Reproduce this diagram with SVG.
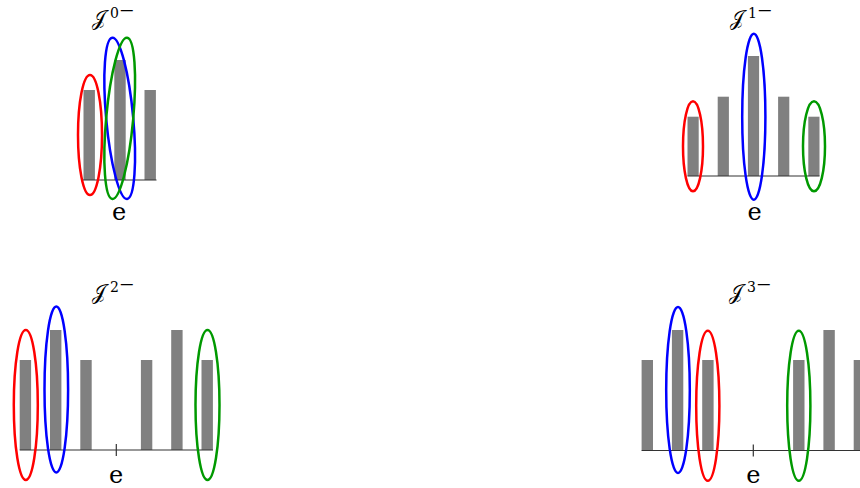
<svg xmlns="http://www.w3.org/2000/svg" width="860" height="488" viewBox="0 0 860 488">
  <style>
    .bar { fill: #808080; }
    .axis { stroke: #333333; stroke-width: 1.2; fill: none; }
    .ell { fill: none; stroke-width: 2.5; }
    .red { stroke: #ff0000; }
    .blue { stroke: #0000ff; }
    .green { stroke: #009900; }
    .J { font-family: "DejaVu Serif", "Liberation Serif", serif; font-size: 20px; fill: #000; }
    .sup { font-family: "DejaVu Serif", "Liberation Serif", serif; font-size: 14px; fill: #000; }
    .e { font-family: "DejaVu Serif", "Liberation Serif", serif; font-size: 24px; fill: #000; text-anchor: middle; }
  </style>

  <g id="panel0">
    <g id="bars0">
      <rect class="bar" x="83.5" y="90" width="11.4" height="90"/>
      <rect class="bar" x="114.3" y="60" width="11.4" height="120"/>
      <rect class="bar" x="144.5" y="90" width="11.4" height="90"/>
    </g>
    <line class="axis" x1="83" y1="180" x2="156.5" y2="180"/>
    <ellipse id="p0-red" class="ell red" cx="90" cy="135" rx="12" ry="60"/>
    <ellipse id="p0-blue" class="ell blue" cx="119.7" cy="118.3" rx="13.5" ry="81" transform="rotate(-5.25 119.7 118.3)"/>
    <ellipse id="p0-green" class="ell green" cx="119.7" cy="118.3" rx="13.5" ry="81" transform="rotate(5.25 119.7 118.3)"/>
    <text class="J" x="92" y="25">𝒥</text>
    <text class="sup" x="110" y="18">0</text>
    <text class="sup" x="119" y="14.5" textLength="16" lengthAdjust="spacingAndGlyphs">−</text>
    <text class="e" x="119" y="220">e</text>
  </g>

  <g id="panel1">
    <g id="bars1">
      <rect class="bar" x="687.5" y="116.7" width="11.2" height="59.3"/>
      <rect class="bar" x="717.7" y="96.7" width="11.2" height="79.3"/>
      <rect class="bar" x="747.9" y="56" width="11.2" height="120"/>
      <rect class="bar" x="778.1" y="96.7" width="11.2" height="79.3"/>
      <rect class="bar" x="808.3" y="116.7" width="11.2" height="59.3"/>
    </g>
    <line class="axis" x1="687.5" y1="176" x2="819.5" y2="176"/>
    <ellipse id="p1-red" class="ell red" cx="693" cy="146.3" rx="10" ry="45"/>
    <ellipse id="p1-blue" class="ell blue" cx="753.8" cy="116.7" rx="11.6" ry="83"/>
    <ellipse id="p1-green" class="ell green" cx="814" cy="146.3" rx="11" ry="45"/>
    <text class="J" x="730" y="25">𝒥</text>
    <text class="sup" x="748" y="18">1</text>
    <text class="sup" x="757" y="14.5" textLength="16" lengthAdjust="spacingAndGlyphs">−</text>
    <text class="e" x="754.6" y="220">e</text>
  </g>

  <g id="panel2">
    <g id="bars2">
      <rect class="bar" x="19.7" y="360" width="11.4" height="90"/>
      <rect class="bar" x="50" y="330" width="11.4" height="120"/>
      <rect class="bar" x="80.3" y="360" width="11.4" height="90"/>
      <rect class="bar" x="140.9" y="360" width="11.4" height="90"/>
      <rect class="bar" x="171.2" y="330" width="11.4" height="120"/>
      <rect class="bar" x="201.5" y="360" width="11.4" height="90"/>
    </g>
    <line class="axis" x1="19.7" y1="450" x2="213" y2="450"/>
    <line class="axis" x1="116.3" y1="444" x2="116.3" y2="456"/>
    <ellipse id="p2-red" class="ell red" cx="25.8" cy="405" rx="12" ry="75"/>
    <ellipse id="p2-blue" class="ell blue" cx="56.3" cy="389.5" rx="11.8" ry="83"/>
    <ellipse id="p2-green" class="ell green" cx="207.5" cy="405" rx="12" ry="75"/>
    <text class="J" x="92" y="299">𝒥</text>
    <text class="sup" x="110" y="292">2</text>
    <text class="sup" x="119" y="288.5" textLength="16" lengthAdjust="spacingAndGlyphs">−</text>
    <text class="e" x="116" y="483">e</text>
  </g>

  <g id="panel3">
    <g id="bars3">
      <rect class="bar" x="641.6" y="360" width="11.4" height="90.5"/>
      <rect class="bar" x="671.9" y="330" width="11.4" height="120.5"/>
      <rect class="bar" x="702.2" y="360" width="11.4" height="90.5"/>
      <rect class="bar" x="793.1" y="360" width="11.4" height="90.5"/>
      <rect class="bar" x="823.4" y="330" width="11.4" height="120.5"/>
      <rect class="bar" x="853.7" y="360" width="11.4" height="90.5"/>
    </g>
    <line class="axis" x1="641.6" y1="450.5" x2="862" y2="450.5"/>
    <line class="axis" x1="753.3" y1="444.5" x2="753.3" y2="456.5"/>
    <ellipse id="p3-blue" class="ell blue" cx="678" cy="390" rx="11.8" ry="83"/>
    <ellipse id="p3-red" class="ell red" cx="707.8" cy="405.8" rx="11.6" ry="75"/>
    <ellipse id="p3-green" class="ell green" cx="798.8" cy="405.8" rx="11.6" ry="75"/>
    <text class="J" x="729" y="299">𝒥</text>
    <text class="sup" x="747" y="292">3</text>
    <text class="sup" x="756" y="288.5" textLength="16" lengthAdjust="spacingAndGlyphs">−</text>
    <text class="e" x="753.3" y="483">e</text>
  </g>
</svg>
